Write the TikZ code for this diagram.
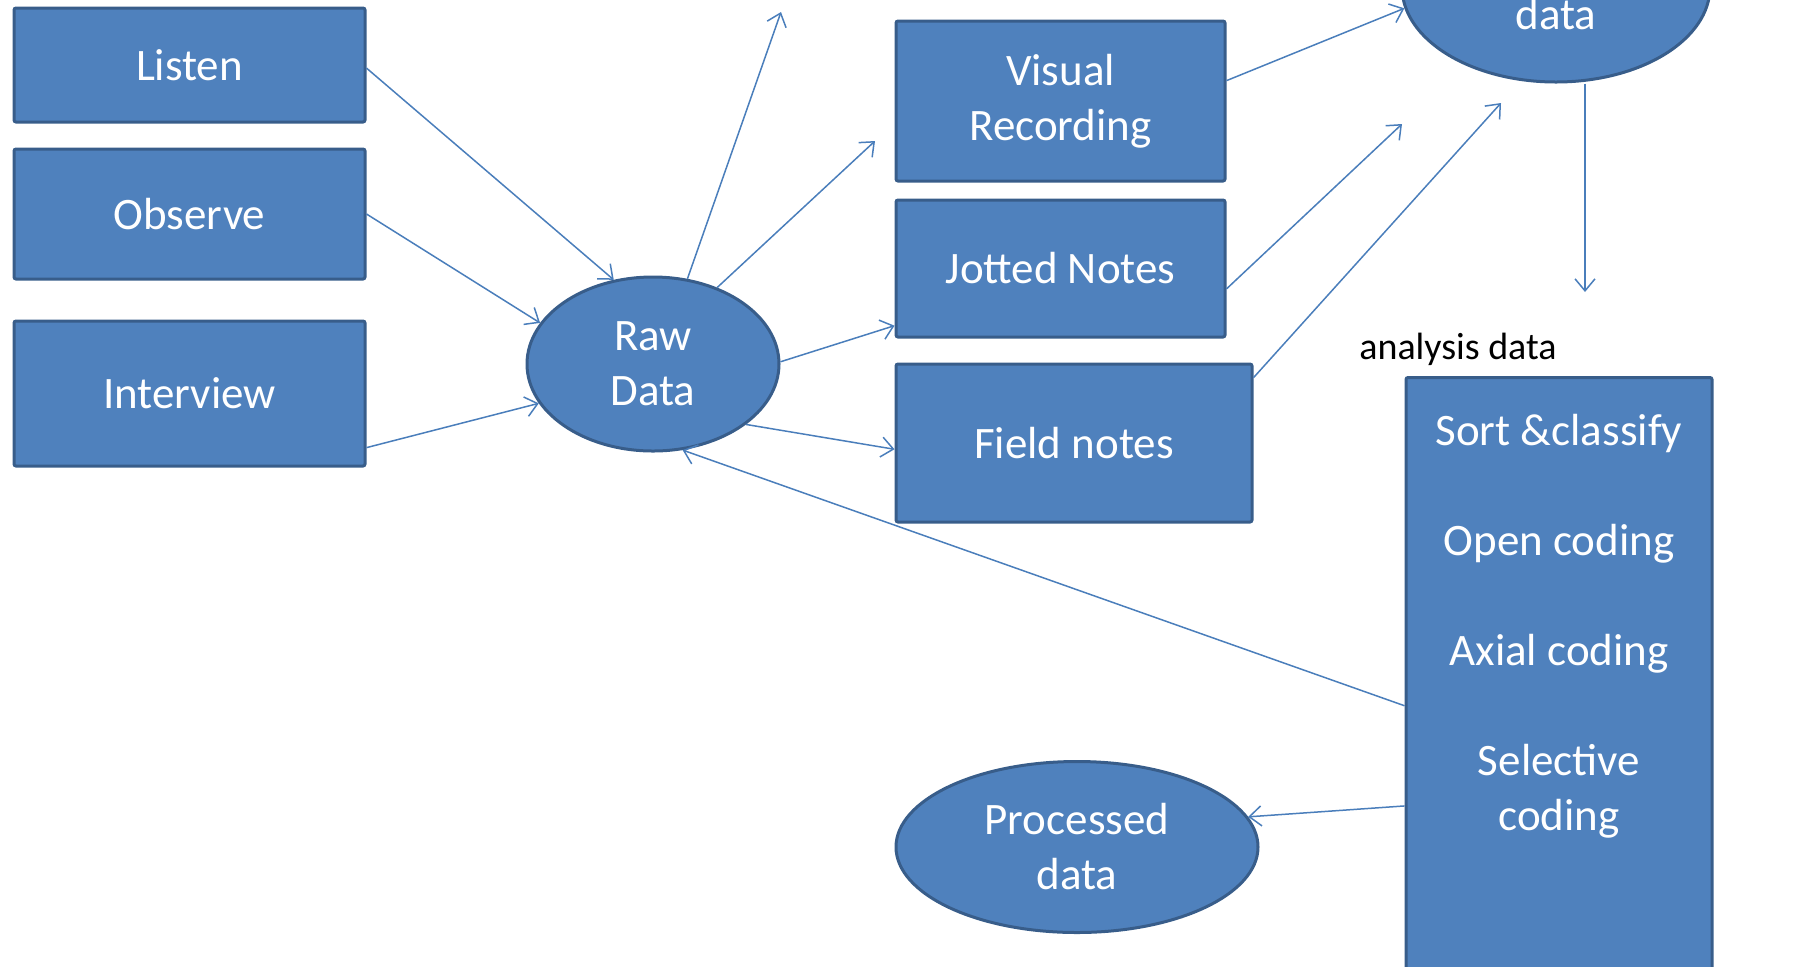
\documentclass[tikz,border=0pt]{standalone}
\usepackage{fontspec}
\setmainfont{Carlito}
\usepackage{xcolor}
\usetikzlibrary{shapes, positioning, arrows.meta}

\definecolor{boxfill}{HTML}{4F81BD}
\definecolor{boxline}{HTML}{385D8A}
\definecolor{arrowline}{HTML}{4A7EBB}

\tikzset{
    box/.style={draw=boxline, fill=boxfill, line width=1.5pt, rounded corners=1pt,
        text=white, font=\fontsize{22.5}{27.5}\selectfont, align=center, inner sep=0pt},
    blob/.style={ellipse, draw=boxline, fill=boxfill, line width=1.5pt,
        text=white, font=\fontsize{22.5}{27.5}\selectfont, align=center, inner sep=0pt},
    link/.style={draw=arrowline, line width=0.75pt, -{Straight Barb[length=6pt, width=10pt]}}
}

\begin{document}
\begin{tikzpicture}[x=0.5pt, y=-0.5pt]
        \useasboundingbox (0, 0) rectangle (1810, 966);

        % collecting
        \node[box, minimum width=175.5pt, minimum height=57pt] (listen) at (189.5, 65) {Listen};
        \node[box, minimum width=175.5pt, minimum height=65pt] (observe) at (189.5, 214) {Observe};
        \node[box, minimum width=175.5pt, minimum height=72.5pt] (interview) at (189.5, 393.5) {Interview};

        \node[blob, minimum width=126pt, minimum height=87pt] (raw) at (653, 364) {Raw\\Data};

        \node[box, minimum width=164.5pt, minimum height=80pt] (visual) at (1060.5, 101) {Visual\\Recording};
        \node[box, minimum width=164.5pt, minimum height=68.5pt] (jotted) at (1060.5, 268.5) {Jotted Notes};
        \node[box, minimum width=178pt, minimum height=79pt] (field) at (1074, 443) {Field notes};

        % analysis
        \node[blob, minimum width=154pt, minimum height=95pt] (data) at (1556, -13) {\mbox{}\\[15pt]data};
        \node[font=\fontsize{19}{23}\selectfont, inner sep=0pt] (analysis) at (1458, 349) {analysis data};
        \node[box, minimum width=153pt, minimum height=312pt, anchor=north] (coding) at (1559, 376) {};
        \node[text=white, font=\fontsize{22.5}{27.5}\selectfont, align=center, inner sep=0pt,
            below=18.75pt of coding.north] (steps)
            {Sort \&classify\\[27.5pt]Open coding\\[27.5pt]Axial coding\\[27.5pt]Selective\\coding};

        \node[blob, minimum width=181pt, minimum height=85.5pt] (processed) at (1077, 847) {Processed\\data};

        \coordinate (up) at (781, 12);
        \coordinate (tovisual) at (875, 141);
        \coordinate (jotend) at (1402, 124);
        \coordinate (fieldend) at (1501, 103);
        \coordinate (anaend) at (1585, 292);

        \draw[link] (listen.-1) -- (raw.115);
        \draw[link] (observe.east) -- (raw.160);
        \draw[link] (interview.-17) -- (raw.199);
        \draw[link] (raw.68) -- (up);
        \draw[link] (raw.50) -- (tovisual);
        \draw[link] (raw.1) -- (jotted.199);
        \draw[link] (raw.-33) -- (field.182);
        \draw[link] (visual.7) -- (data.188);
        \draw[link] (jotted.-7) -- (jotend);
        \draw[link] (field.20) -- (fieldend);
        \draw[link] (anaend |- data.south) -- (anaend);
        \draw[link] (coding.186) -- (raw.289);
        \draw[link] (coding.217.6) -- (processed.10);
    \end{tikzpicture}
\end{document}
